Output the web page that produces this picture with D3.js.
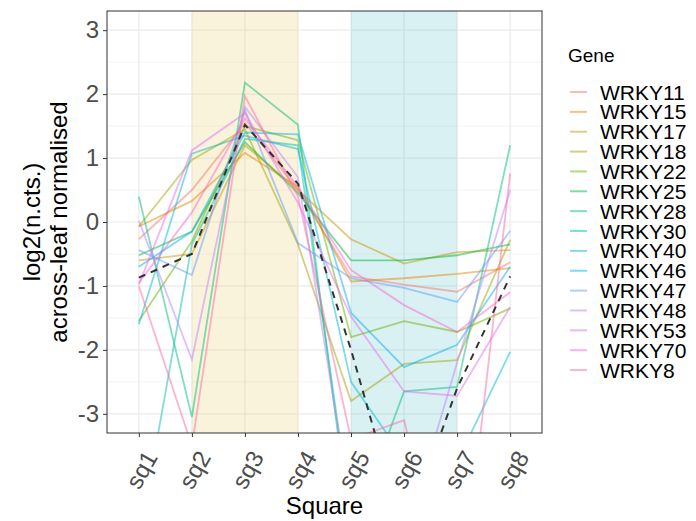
<!DOCTYPE html>
<html>
<head>
<meta charset="utf-8">
<script src="https://cdn.jsdelivr.net/npm/d3@7"></script>
<style>
  body { margin: 0; background: #fff; }
  svg text { font-family: "Liberation Sans", Arial, sans-serif; }
</style>
</head>
<body>
<svg id="chart"></svg>
<script>
// squares along the leaf
const squares = ["sq1", "sq2", "sq3", "sq4", "sq5", "sq6", "sq7", "sq8"];
const genes = ["WRKY11", "WRKY15", "WRKY17", "WRKY18", "WRKY22", "WRKY25", "WRKY28", "WRKY30",
    "WRKY40", "WRKY46", "WRKY47", "WRKY48", "WRKY53", "WRKY70", "WRKY8"];
const geneColors = ["#F8766D", "#E58700", "#C99800", "#A3A500", "#6BB100", "#00BA38", "#00BF7D", "#00C0AF",
    "#00BCD8", "#00B0F6", "#619CFF", "#B983FF", "#E76BF3", "#FD61D1", "#FF67A4"];
const yTicks = [-3, -2, -1, 0, 1, 2, 3];

// log2 normalised counts per square
const wrky11 = [-0.27, 0.5, 1.55, 0.5, -0.85, -0.98, -1.09, -0.63];
const wrky15 = [-0.07, 0.33, 1.08, 0.55, -0.93, -0.88, -0.81, -0.72];
const wrky17 = [-0.6, -0.5, 1.2, 0.5, -0.27, -0.65, -0.47, -0.44];
const wrky18 = [-0.07, 0.97, 1.45, -0.35, -2.8, -2.22, -2.16, -0.28];
const wrky22 = [-1.55, -0.3, 1.5, 1.28, -1.8, -1.55, -1.72, -1.35];
const wrky25 = [-0.52, -0.15, 1.25, 0.45, -0.6, -0.6, -0.52, -0.35];
const wrky28 = [0.4, -3.05, 2.18, 1.52, -4.9, -2.65, -2.58, 1.2];
const wrky30 = [-5.0, -0.35, 1.3, 1.2, -4.6, -5.2, -5.5, -4.8];
const wrky40 = [-1.6, 1.07, 1.35, 1.14, -2.5, -3.7, -3.75, -2.03];
const wrky46 = [-0.7, -0.15, 1.4, 1.37, -1.42, -2.27, -1.92, -0.7];
const wrky47 = [-0.44, -0.83, 1.75, -0.33, -0.88, -1.03, -1.25, -0.14];
const wrky48 = [0.02, -2.15, 1.8, 0.7, -4.5, -5.0, -2.2, 0.5];
const wrky53 = [-0.98, 1.12, 1.7, 0.3, -1.48, -2.65, -2.72, -1.33];
const wrky70 = [-0.95, 0.15, 1.62, 0.55, -0.75, -1.3, -1.72, -1.1];
const wrky8 = [-1.0, -3.5, 1.97, 0.4, -3.4, -3.1, -6.5, 0.76];
// dashed summary line
const meanLine = [-0.87, -0.5, 1.52, 0.6, -2.0, -4.9, -2.6, -0.85];

const seriesVals = [wrky11, wrky15, wrky17, wrky18, wrky22, wrky25, wrky28, wrky30,
    wrky40, wrky46, wrky47, wrky48, wrky53, wrky70, wrky8];

const W = 696, H = 521;
const panel = { left: 107, right: 542, top: 11, bottom: 433 };
const FONT = "'Liberation Sans', Arial, sans-serif";

const svg = d3.select("#chart")
    .attr("width", W)
    .attr("height", H);

const x = d3.scalePoint()
    .domain(squares)
    .range([panel.left, panel.right])
    .padding(0.6);

const y = d3.scaleLinear()
    .domain([-3.3, 3.3])
    .range([panel.bottom, panel.top]);

svg.append("defs").append("clipPath")
    .attr("id", "clip")
    .append("rect")
    .attr("x", panel.left)
    .attr("y", panel.top)
    .attr("width", panel.right - panel.left)
    .attr("height", panel.bottom - panel.top);

// grid
const minorY = d3.range(-2.5, 3.5, 1);
svg.append("g").selectAll("line")
    .data(minorY)
    .join("line")
    .attr("x1", panel.left).attr("x2", panel.right)
    .attr("y1", d => y(d)).attr("y2", d => y(d))
    .attr("stroke", "#EBEBEB").attr("stroke-width", 0.6);
svg.append("g").selectAll("line")
    .data(yTicks)
    .join("line")
    .attr("x1", panel.left).attr("x2", panel.right)
    .attr("y1", d => y(d)).attr("y2", d => y(d))
    .attr("stroke", "#EBEBEB").attr("stroke-width", 1.2);
svg.append("g").selectAll("line")
    .data(squares)
    .join("line")
    .attr("x1", d => x(d)).attr("x2", d => x(d))
    .attr("y1", panel.top).attr("y2", panel.bottom)
    .attr("stroke", "#EBEBEB").attr("stroke-width", 1.2);

// shaded bands
const bands = [
    { from: "sq2", to: "sq4", fill: "#E6C34D" },
    { from: "sq5", to: "sq7", fill: "#3FB8C4" }
];
svg.append("g").selectAll("rect")
    .data(bands)
    .join("rect")
    .attr("x", d => x(d.from))
    .attr("width", d => x(d.to) - x(d.from))
    .attr("y", panel.top)
    .attr("height", panel.bottom - panel.top)
    .attr("fill", d => d.fill)
    .attr("fill-opacity", 0.2);

const line = d3.line()
    .x((d, i) => x(squares[i]))
    .y(d => y(d));

const plot = svg.append("g").attr("clip-path", "url(#clip)");

plot.selectAll("path.gene")
    .data(seriesVals)
    .join("path")
    .attr("class", "gene")
    .attr("d", line)
    .attr("fill", "none")
    .attr("stroke", (d, i) => geneColors[i])
    .attr("stroke-opacity", 0.5)
    .attr("stroke-width", 1.8);

plot.append("path")
    .datum(meanLine)
    .attr("d", line)
    .attr("fill", "none")
    .attr("stroke", "#333333")
    .attr("stroke-width", 2)
    .attr("stroke-dasharray", "7,6");

// panel border
svg.append("rect")
    .attr("x", panel.left).attr("y", panel.top)
    .attr("width", panel.right - panel.left)
    .attr("height", panel.bottom - panel.top)
    .attr("fill", "none")
    .attr("stroke", "#333333")
    .attr("stroke-width", 1);

// axes
const yAxis = svg.append("g")
    .attr("transform", `translate(${panel.left},0)`)
    .call(d3.axisLeft(y).tickValues(yTicks).tickFormat(d => String(d)).tickSize(4).tickPadding(4));
const xAxis = svg.append("g")
    .attr("transform", `translate(0,${panel.bottom})`)
    .call(d3.axisBottom(x).tickSize(4).tickPadding(4));

[yAxis, xAxis].forEach(g => {
    g.attr("font-family", FONT).attr("font-size", 24);
    g.select(".domain").remove();
    g.selectAll(".tick line").attr("stroke", "#333333");
    g.selectAll(".tick text")
        .attr("fill", "#4D4D4D");
});

xAxis.selectAll(".tick text")
    .attr("text-anchor", "end")
    .attr("dy", "0.35em")
    .attr("transform", "translate(5,16) rotate(-60)");

// axis titles
svg.append("text")
    .attr("x", (panel.left + panel.right) / 2)
    .attr("y", 514)
    .attr("text-anchor", "middle")
    .attr("font-size", 24)
    .text("Square");

const yTitle = svg.append("text")
    .attr("transform", `translate(40,${(panel.top + panel.bottom) / 2}) rotate(-90)`)
    .attr("text-anchor", "middle")
    .attr("font-size", 24);
yTitle.append("tspan").attr("x", 0).attr("y", 0).text("log2(n.cts.)");
yTitle.append("tspan").attr("x", 0).attr("y", 27).text("across-leaf normalised");

// legend
const legend = svg.append("g").attr("transform", "translate(568,0)");
legend.append("text")
    .attr("x", 0)
    .attr("y", 62)
    .attr("font-size", 19)
    .text("Gene");

const items = legend.selectAll("g.item")
    .data(genes)
    .join("g")
    .attr("class", "item")
    .attr("transform", (d, i) => `translate(0,${92 + i * 19.86})`);

items.append("line")
    .attr("x1", 2).attr("x2", 19)
    .attr("y1", 0).attr("y2", 0)
    .attr("stroke", (d, i) => geneColors[i])
    .attr("stroke-opacity", 0.5)
    .attr("stroke-width", 2);

items.append("text")
    .attr("x", 32)
    .attr("y", 0)
    .attr("dy", "0.36em")
    .attr("font-size", 21)
    .text(d => d);
</script>
</body>
</html>
